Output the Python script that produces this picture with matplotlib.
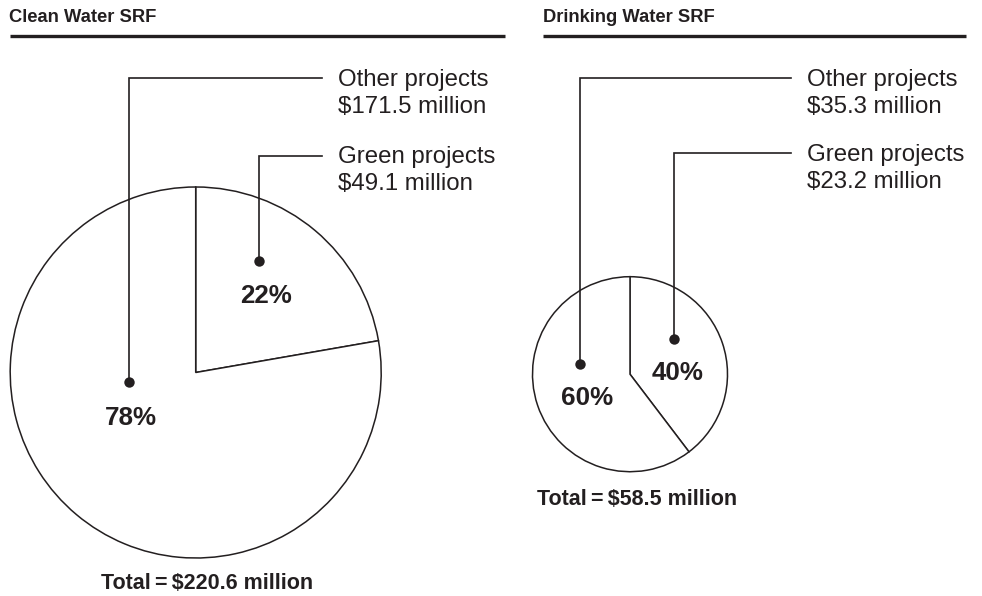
import matplotlib
matplotlib.use("Agg")
import matplotlib.pyplot as plt

plt.rcParams['font.family'] = ['Liberation Sans', 'DejaVu Sans']

# ---- data ----
panel_titles = ["Clean Water SRF", "Drinking Water SRF"]
slice_names = ["Green projects", "Other projects"]
clean_values = [49.1, 171.5]      # $ million
drinking_values = [23.2, 35.3]    # $ million
totals = [220.6, 58.5]

W, H = 982, 596
INK = "#231f20"

fig = plt.figure(figsize=(W / 100, H / 100), dpi=100)
ax = fig.add_axes([0, 0, 1, 1])


def Y(py):
    return H - py


# layout per panel (pixel coordinates of the reference)
panels = [
    dict(values=clean_values, total=totals[0], title=panel_titles[0],
         title_x=9, rule=(10, 505), center=(195.7, 372.5), radius=185.5,
         green_dot=(259, 261), other_dot=(128.7, 382.3),
         green_pct=(265.7, 303.3), other_pct=(130.7, 425),
         other_line_y=78.3, green_line_y=156, line_end=321.7, text_x=337.7,
         other_base=86, green_base=163, total_pos=(207, 589)),
    dict(values=drinking_values, total=totals[1], title=panel_titles[1],
         title_x=542.7, rule=(543, 966), center=(630, 374.2), radius=97.5,
         green_dot=(674.3, 339.3), other_dot=(580.3, 364.3),
         green_pct=(677.3, 380), other_pct=(586.7, 405),
         other_line_y=78.3, green_line_y=153.3, line_end=790.7, text_x=807.3,
         other_base=86, green_base=160.5, total_pos=(637.5, 505)),
]

for p in panels:
    vals = p["values"]
    cx, cy = p["center"]
    ax.pie(vals, center=(cx, Y(cy)), radius=p["radius"], startangle=90,
           counterclock=False, colors=["white", "white"],
           wedgeprops=dict(edgecolor=INK, linewidth=1.1))

    # title and rule
    ax.text(p["title_x"], Y(21.5), p["title"], fontsize=13.2, fontweight="bold",
            color=INK, ha="left", va="baseline")
    ax.plot(p["rule"], [Y(36), Y(36)], color=INK, lw=2.4, solid_capstyle="butt")

    s = sum(vals)
    pcts = [round(100 * v / s) for v in vals]

    # percentages
    gx, gb = p["green_pct"]
    ox, ob = p["other_pct"]
    ax.text(gx, Y(gb), f"{pcts[0]}%", fontsize=18.7, fontweight="bold",
            color=INK, ha="center", va="baseline")
    ax.text(ox, Y(ob), f"{pcts[1]}%", fontsize=18.7, fontweight="bold",
            color=INK, ha="center", va="baseline")

    # leader lines + dots
    for dot, ly in ((p["green_dot"], p["green_line_y"]),
                    (p["other_dot"], p["other_line_y"])):
        dx, dy = dot
        ax.plot([dx, dx, p["line_end"]], [Y(dy), Y(ly), Y(ly)], color=INK,
                lw=1.2, solid_joinstyle="miter")
        ax.plot(dx, Y(dy), "o", color=INK, ms=7.5, mec="none")

    # labels
    for name, v, base in ((slice_names[1], vals[1], p["other_base"]),
                          (slice_names[0], vals[0], p["green_base"])):
        ax.text(p["text_x"], Y(base), name, fontsize=17.3, color=INK,
                ha="left", va="baseline")
        ax.text(p["text_x"], Y(base + 27), f"${v:.1f} million", fontsize=17.3,
                color=INK, ha="left", va="baseline")

    tx, tb = p["total_pos"]
    ax.text(tx, Y(tb), f"Total\u2009=\u2009${p['total']:.1f} million",
            fontsize=15.5, fontweight="bold", color=INK, ha="center",
            va="baseline")

ax.set_xlim(0, W)
ax.set_ylim(0, H)
ax.set_aspect("auto")
ax.axis("off")

fig.savefig("out.png", dpi=100, facecolor="white")
